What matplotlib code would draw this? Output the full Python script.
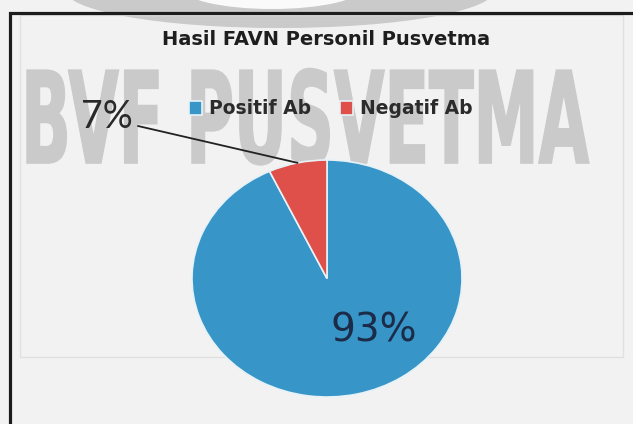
import matplotlib
matplotlib.use("Agg")
import matplotlib.pyplot as plt
import numpy as np
from matplotlib.patches import Ellipse, Rectangle
from matplotlib import patheffects
from matplotlib.transforms import Affine2D

# ---- data ----
title = "Hasil FAVN Personil Pusvetma"
categories = ["Positif Ab", "Negatif Ab"]
values = [93, 7]
colors = ["#3795c8", "#e0504a"]
watermark = "BVF PUSVETMA"

W, H = 633, 424


class Stretch(patheffects.AbstractPathEffect):
    """Stretch glyphs vertically about a display baseline and thicken them."""

    def __init__(self, sy, y0, lw, color):
        super().__init__()
        self.sy, self.y0, self.lw, self.color = sy, y0, lw, color

    def draw_path(self, renderer, gc, tpath, affine, rgbFace=None):
        aff = affine + Affine2D().translate(0, -self.y0).scale(1, self.sy).translate(0, self.y0)
        gc0 = renderer.new_gc()
        gc0.copy_properties(gc)
        gc0.set_linewidth(self.lw)
        gc0.set_foreground(self.color)
        gc0.set_joinstyle("miter")
        renderer.draw_path(gc0, tpath, aff, rgbFace)
        gc0.restore()


fig = plt.figure(figsize=(W / 100, H / 100), dpi=100, facecolor="#f2f2f2")

# background / decoration axes in pixel coordinates
bg = fig.add_axes([0, 0, 1, 1], zorder=0)
bg.set_xlim(0, W)
bg.set_ylim(H, 0)
bg.axis("off")
bg.add_patch(Ellipse((280, -10), 430, 76, color="#cacaca", lw=0))
bg.add_patch(Ellipse((272, -12), 180, 42, color="#fafafa", lw=0))
bg.add_patch(Rectangle((20, 15), 603, 342, fill=False, edgecolor="#e0e0e0", lw=1))
wm_base = 163
bg.text(305, wm_base, watermark, ha="center", va="baseline", fontsize=47,
        fontweight="bold", family="DejaVu Sans", color="#cacaca",
        path_effects=[Stretch(1.95, H - wm_base, 1.2, "#cacaca")])
bg.plot([10, 10, W], [H, 13, 13], color="#1c1c1c", lw=2.3, solid_joinstyle="miter")

# pie axes
ax = fig.add_axes([0, 0, 1, 1], zorder=1)
ax.patch.set_visible(False)
wedges, texts, autotexts = ax.pie(
    values, colors=colors, startangle=90, counterclock=False,
    autopct="%1.0f%%", wedgeprops=dict(edgecolor="#e6f2f8", linewidth=1.2))
cx, cy, rx, ry = 327, 278.5, 135, 118.5
ax.set_aspect("auto")
ax.set_xlim(-cx / rx, (W - cx) / rx)
ax.set_ylim(-(H - cy) / ry, cy / ry)
ax.axis("off")

big = autotexts[0]
big.set_position(((374 - cx) / rx, (cy - 342) / ry))
big.set_ha("center")
big.set_va("baseline")
big.set_fontsize(28)
big.set_color("#1b2b48")
big.set_family("DejaVu Sans")

small = autotexts[1]
small.set_position(((133 - cx) / rx, (cy - 128) / ry))
small.set_ha("right")
small.set_va("baseline")
small.set_fontsize(27)
small.set_color("#2a2a2a")
small.set_family("Lato")

w = wedges[1]
mid = np.deg2rad((w.theta1 + w.theta2) / 2)
ax.annotate("", xy=(np.cos(mid) * w.r, np.sin(mid) * w.r),
            xytext=((138 - cx) / rx, (cy - 126) / ry),
            arrowprops=dict(arrowstyle="-", color="#222222", lw=1.3, shrinkA=0, shrinkB=0))

ax.legend(wedges, categories, ncol=2, loc="center",
          bbox_to_anchor=(330.5 / W, 1 - 109 / H), bbox_transform=fig.transFigure,
          frameon=False, handlelength=0.7, handleheight=0.7, handletextpad=0.37,
          columnspacing=1.55, labelcolor="#2b2b2b",
          prop=dict(family="DejaVu Sans", weight="bold", size=13.5))

fig.text(326.5 / W, 1 - 45 / H, title, ha="center", va="baseline", fontsize=14,
         fontweight="bold", family="DejaVu Sans", color="#1e1e1e", zorder=5)

fig.savefig("out.png", dpi=100, facecolor=fig.get_facecolor())
